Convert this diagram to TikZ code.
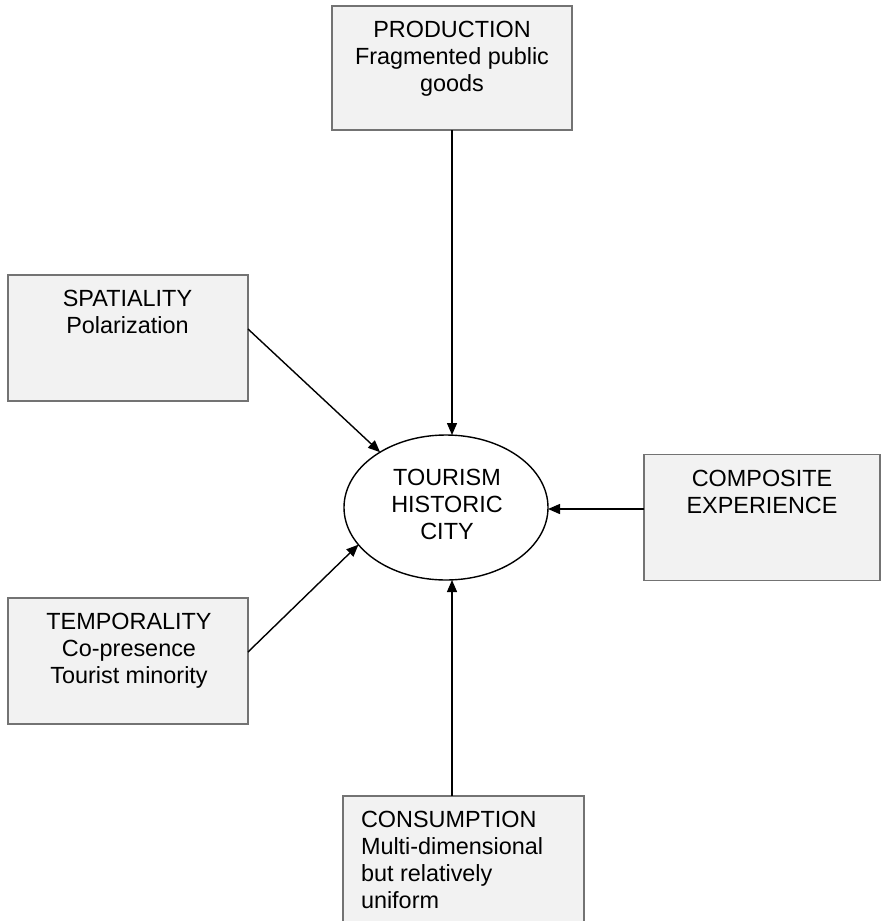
\documentclass[tikz,border=0pt]{standalone}
\usepackage{fontspec}
\setmainfont{Liberation Sans}
\usetikzlibrary{arrows.meta,shapes.geometric}

\tikzset{
  factor/.style={draw=black!55, fill=black!5, line width=1.4bp,
    minimum width=240bp, minimum height=126bp, inner sep=0pt, outer sep=0pt},
  factortext/.style={inner sep=0pt, outer sep=0pt, align=center, anchor=north,
    font=\fontsize{23.5}{27}\selectfont},
  hub/.style={draw=black, ellipse, line width=1.4bp, fill=white,
    minimum width=204bp, minimum height=145bp, inner sep=0pt, outer sep=0pt},
  link/.style={line width=1.4bp, draw=black,
    -{Triangle[length=12bp,width=10bp]}}
}

\begin{document}
\begin{tikzpicture}[x=1bp,y=-1bp]
  \useasboundingbox (0,0) rectangle (882,921);

  % factor boxes
  \node[factor, minimum height=124bp] (prod) at (452,68) {};
  \node[factor] (spat) at (128,338) {};
  \node[factor, minimum width=236bp] (comp) at (762,517.5) {};
  \node[factor] (temp) at (128,661) {};
  \node[factor, minimum width=241bp] (cons) at (463.5,859) {};

  % central ellipse
  \node[hub] (city) at (446,507.5) {};

  % labels
  \node[factortext] (prodtext) at (452,21) {PRODUCTION\\Fragmented public\\goods};
  \node[factortext] (spattext) at (127.5,290) {SPATIALITY\\Polarization};
  \node[factortext] (comptext) at (762,470) {COMPOSITE\\EXPERIENCE};
  \node[factortext] (temptext) at (129,613) {TEMPORALITY\\Co-presence\\Tourist minority};
  \node[factortext, align=left, anchor=north west] (constext) at (361,811)
    {CONSUMPTION\\Multi-dimensional\\but relatively\\uniform};
  \node[factortext] (citytext) at (447,469) {TOURISM\\HISTORIC\\CITY};

  % connectors into the city
  \draw[link] (prod.south) -- (prod.south |- city.north);
  \draw[link] ([yshift=9bp]spat.east) -- (city.140.8);
  \draw[link] ([yshift=9bp]temp.east) -- (city.203.5);
  \coordinate (compfoot) at ([yshift=8.5bp]comp.west);
  \draw[link] (compfoot) -- (compfoot -| city.east);
  \coordinate (consfoot) at ([xshift=-11.5bp]cons.north);
  \draw[link] (consfoot) -- (consfoot |- city.south);
\end{tikzpicture}
\end{document}
